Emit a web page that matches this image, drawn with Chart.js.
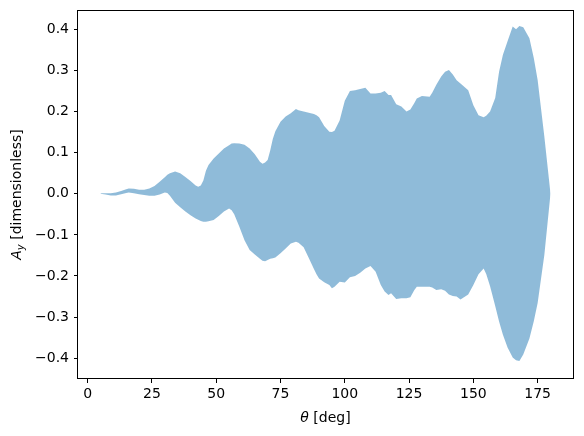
<!DOCTYPE html>
<html>
<head>
<meta charset="utf-8">
<script src="https://cdn.jsdelivr.net/npm/chart.js@4/dist/chart.umd.min.js"></script>
<style>
  html, body { margin: 0; padding: 0; background: #fff; }
  canvas { display: block; }
</style>
</head>
<body>
<canvas id="chart-ay" width="584" height="436"></canvas>
<script>
// angle in degrees
const angles = [5, 7, 9, 11, 13, 15, 16, 18, 20, 22, 24, 26, 28, 30, 31, 32, 34, 36, 38, 40,
  42, 43, 44, 45, 46, 47, 49, 51, 53, 55, 56, 57, 59, 61, 63, 65, 67, 68, 69, 70,
  71, 72, 73, 75, 77, 79, 81, 82, 84, 86, 88, 89, 90, 92, 94, 95, 96, 98, 100, 102,
  104, 106, 108, 110, 112, 114, 115.5, 117, 118, 120, 122, 124, 125.5, 127, 128, 130, 133, 134, 135.6, 137.5,
  139, 140.5, 142, 143.5, 145, 148, 150, 152, 154, 155, 156.5, 158.5, 160, 161.5, 163.3, 165.3, 166.6, 167.9, 169.4, 171.8,
  173.5, 175, 177.6, 180];

// upper edge of the band
const upperAy = [0.001, 0.001, 0.001, 0.003, 0.007, 0.011, 0.013, 0.012, 0.010, 0.010, 0.013, 0.019, 0.029, 0.040, 0.046, 0.050, 0.054, 0.050, 0.041, 0.031,
  0.020, 0.017, 0.020, 0.032, 0.056, 0.070, 0.086, 0.098, 0.110, 0.118, 0.122, 0.123, 0.122, 0.119, 0.110, 0.096, 0.078, 0.073, 0.076, 0.082,
  0.105, 0.133, 0.152, 0.175, 0.188, 0.196, 0.206, 0.203, 0.200, 0.197, 0.194, 0.191, 0.186, 0.165, 0.151, 0.150, 0.153, 0.178, 0.226, 0.250,
  0.252, 0.255, 0.258, 0.244, 0.244, 0.246, 0.250, 0.240, 0.240, 0.218, 0.212, 0.200, 0.205, 0.220, 0.232, 0.238, 0.236, 0.246, 0.265, 0.285,
  0.297, 0.301, 0.290, 0.276, 0.268, 0.252, 0.215, 0.191, 0.186, 0.190, 0.200, 0.233, 0.297, 0.338, 0.371, 0.407, 0.400, 0.408, 0.405, 0.378,
  0.330, 0.277, 0.139, 0.000];

// lower edge of the band
const lowerAy = [0.000, -0.002, -0.004, -0.004, -0.001, 0.002, 0.003, 0.001, -0.001, -0.003, -0.005, -0.005, -0.002, 0.003, 0.002, -0.005, -0.022, -0.033, -0.043, -0.052,
  -0.060, -0.063, -0.066, -0.068, -0.068, -0.067, -0.064, -0.054, -0.043, -0.036, -0.040, -0.050, -0.080, -0.113, -0.137, -0.148, -0.158, -0.163, -0.164, -0.161,
  -0.158, -0.157, -0.155, -0.145, -0.133, -0.121, -0.117, -0.119, -0.130, -0.156, -0.183, -0.196, -0.206, -0.215, -0.222, -0.230, -0.226, -0.214, -0.216, -0.203,
  -0.200, -0.192, -0.182, -0.176, -0.190, -0.222, -0.238, -0.246, -0.242, -0.256, -0.254, -0.254, -0.252, -0.235, -0.226, -0.226, -0.226, -0.228, -0.234, -0.232,
  -0.236, -0.245, -0.249, -0.250, -0.257, -0.245, -0.222, -0.196, -0.182, -0.195, -0.225, -0.273, -0.311, -0.343, -0.374, -0.398, -0.405, -0.407, -0.391, -0.352,
  -0.310, -0.266, -0.149, 0.000];

const xTicks = [0, 25, 50, 75, 100, 125, 150, 175];
const yTicks = [-0.4, -0.3, -0.2, -0.1, 0.0, 0.1, 0.2, 0.3, 0.4];

const FONT = "'DejaVu Sans', sans-serif";

// axis box + mathtext-like axis titles
const frameAndTitles = {
  id: 'frameAndTitles',
  afterDraw(chart) {
    const { ctx, chartArea: a } = chart;
    ctx.save();
    ctx.strokeStyle = '#000';
    ctx.lineWidth = 1;
    ctx.strokeRect(Math.round(a.left) - 0.5, Math.round(a.top) + 0.5,
      Math.round(a.right - a.left) + 1, Math.round(a.bottom - a.top) - 1);

    ctx.fillStyle = '#000';
    ctx.textBaseline = 'alphabetic';
    ctx.textAlign = 'left';

    // x title: θ [deg]
    const cx = (a.left + a.right) / 2;
    ctx.font = 'italic 14px ' + FONT;
    const wTheta = ctx.measureText('θ').width;
    ctx.font = '14px ' + FONT;
    const wRest = ctx.measureText(' [deg]').width;
    const x0 = cx - (wTheta + wRest) / 2;
    ctx.font = 'italic 14px ' + FONT;
    ctx.fillText('θ', x0, 422);
    ctx.font = '14px ' + FONT;
    ctx.fillText(' [deg]', x0 + wTheta, 422);

    // y title: A_y [dimensionless]
    const cy = (a.top + a.bottom) / 2;
    ctx.translate(21, cy);
    ctx.rotate(-Math.PI / 2);
    ctx.font = 'italic 14px ' + FONT;
    const wA = ctx.measureText('A').width;
    ctx.font = 'italic 10px ' + FONT;
    const wy = ctx.measureText('y').width;
    ctx.font = '14px ' + FONT;
    const wDim = ctx.measureText(' [dimensionless]').width;
    const s = -(wA + wy + wDim) / 2;
    ctx.font = 'italic 14px ' + FONT;
    ctx.fillText('A', s, 0);
    ctx.font = 'italic 10px ' + FONT;
    ctx.fillText('y', s + wA, 3);
    ctx.font = '14px ' + FONT;
    ctx.fillText(' [dimensionless]', s + wA + wy, 0);
    ctx.restore();
  }
};

const dataAy = {
  datasets: [
    {
      label: 'upper',
      data: angles.map((a, i) => ({ x: a, y: upperAy[i] })),
      borderColor: 'rgba(0,0,0,0)',
      borderWidth: 0,
      backgroundColor: 'rgba(31,119,180,0.5)',
      pointRadius: 0,
      tension: 0,
      fill: '+1'
    },
    {
      label: 'lower',
      data: angles.map((a, i) => ({ x: a, y: lowerAy[i] })),
      borderColor: 'rgba(0,0,0,0)',
      borderWidth: 0,
      pointRadius: 0,
      tension: 0,
      fill: false
    }
  ]
};

const configAy = {
  type: 'line',
  data: dataAy,
  options: {
    responsive: false,
    animation: false,
    devicePixelRatio: 1,
    layout: { padding: { top: 10, right: 11, left: 0, bottom: 0 } },
    plugins: {
      legend: { display: false },
      tooltip: { enabled: false }
    },
    scales: {
      x: {
        type: 'linear',
        min: -3.75,
        max: 188.75,
        afterBuildTicks: (scale) => { scale.ticks = xTicks.map(v => ({ value: v })); },
        afterFit: (scale) => {
          scale.height = 57;
          scale.paddingLeft = 0;
          scale.paddingRight = 0;
        },
        border: { display: false },
        grid: { drawOnChartArea: false, drawTicks: true, tickLength: 4, color: '#000', lineWidth: 1 },
        ticks: {
          color: '#000',
          font: { family: FONT, size: 14 },
          padding: 3,
          maxRotation: 0,
          autoSkip: false,
          callback: (v) => String(v)
        }
      },
      y: {
        type: 'linear',
        min: -0.4506,
        max: 0.447,
        afterBuildTicks: (scale) => { scale.ticks = yTicks.map(v => ({ value: v })); },
        afterFit: (scale) => {
          scale.width = 78;
          scale.paddingTop = 0;
          scale.paddingBottom = 0;
        },
        border: { display: false },
        grid: { drawOnChartArea: false, drawTicks: true, tickLength: 4, color: '#000', lineWidth: 1 },
        ticks: {
          color: '#000',
          font: { family: FONT, size: 14 },
          padding: 5,
          autoSkip: false,
          callback: (v) => v.toFixed(1).replace('-', '\u2212')
        }
      }
    }
  },
  plugins: [frameAndTitles]
};

const myChartAy = new Chart(document.getElementById('chart-ay'), configAy);
</script>
</body>
</html>
